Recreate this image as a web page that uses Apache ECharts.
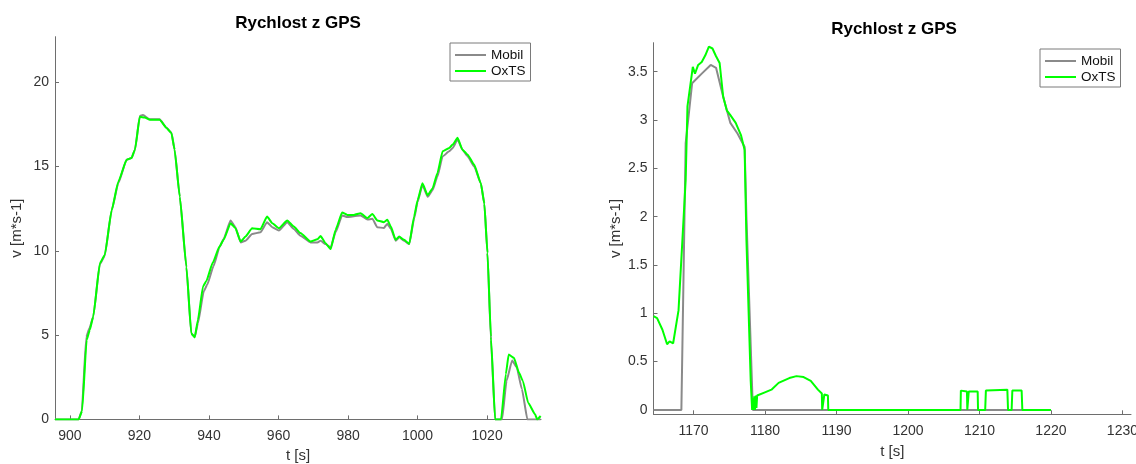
<!DOCTYPE html>
<html>
<head>
<meta charset="utf-8">
<script src="https://cdn.jsdelivr.net/npm/echarts@6/dist/echarts.min.js"></script>
<style>
html,body{margin:0;padding:0;background:#fff;}
#chart{width:1136px;height:464px;}
</style>
</head>
<body>
<div id="chart"></div>
<script>
// ---------- Data ----------
var chartTitle = 'Rychlost z GPS';
var seriesNames = ['Mobil', 'OxTS'];

// Left panel
var leftXTicks = [900, 920, 940, 960, 980, 1000, 1020];
var leftYTicks = [0, 5, 10, 15, 20];
var leftOxtsT = [895.7, 902.5, 903.5, 904.8, 905.7, 906.7, 908.6, 910.0, 912.0, 913.9, 916.3, 917.7, 918.7, 920.1, 921.5, 923.0, 925.8, 927.8, 929.2, 930.1, 931.6, 933.5, 934.9, 935.9, 936.8, 938.3, 939.2, 941.1, 943.0, 944.2, 946.2, 947.6, 949.1, 950.5, 952.4, 954.8, 956.7, 958.2, 960.1, 962.5, 964.4, 966.3, 969.2, 971.2, 972.1, 973.5, 975.0, 976.4, 978.3, 979.8, 981.7, 983.6, 985.6, 987.0, 988.4, 990.3, 991.3, 992.3, 993.7, 994.7, 996.1, 997.6, 999.0, 1000.0, 1001.4, 1002.9, 1004.3, 1005.7, 1007.2, 1009.1, 1010.1, 1011.5, 1012.9, 1014.4, 1016.3, 1018.2, 1019.2, 1020.1, 1021.1, 1022.3, 1024.0, 1025.4, 1026.2, 1027.7, 1029.2, 1030.3, 1031.8, 1033.8, 1034.4, 1035.4];
var leftOxtsV = [0, 0, 0.5, 4.7, 5.3, 6.1, 9.26, 9.75, 12.4, 14.1, 15.4, 15.5, 16.0, 17.95, 17.9, 17.77, 17.77, 17.28, 16.98, 16.0, 13.2, 9.06, 5.1, 4.86, 5.9, 7.9, 8.2, 9.3, 10.25, 10.65, 11.64, 11.34, 10.55, 10.85, 11.34, 11.28, 12.03, 11.64, 11.34, 11.8, 11.44, 11.05, 10.55, 10.69, 10.88, 10.45, 10.1, 11.24, 12.27, 12.13, 12.13, 12.23, 11.94, 12.19, 11.8, 11.7, 11.84, 11.44, 10.65, 10.85, 10.65, 10.41, 12.03, 13.0, 14.0, 13.3, 13.7, 14.6, 15.9, 16.1, 16.3, 16.7, 16.0, 15.7, 15.1, 14.0, 12.8, 9.86, 4.9, 0, 0, 2.7, 3.85, 3.65, 2.76, 2.27, 0.99, 0.3, 0, 0.2];
var leftMobilT = [895.7, 902.5, 903.4, 904.7, 905.6, 906.7, 908.6, 910.0, 912.0, 913.9, 916.3, 917.7, 918.7, 920.1, 921.0, 923.0, 925.8, 927.8, 929.2, 930.1, 931.6, 933.5, 934.9, 935.9, 936.8, 938.5, 939.5, 941.3, 943.0, 944.2, 946.2, 947.6, 949.1, 950.5, 952.4, 954.8, 956.7, 958.2, 960.1, 962.5, 964.4, 966.3, 969.2, 971.2, 972.1, 973.5, 975.0, 976.4, 978.3, 979.8, 981.7, 983.6, 985.6, 987.0, 988.4, 990.3, 991.3, 992.3, 993.7, 994.7, 996.1, 997.6, 999.0, 1000.0, 1001.4, 1002.9, 1004.3, 1005.7, 1007.2, 1009.1, 1010.1, 1011.5, 1012.9, 1014.4, 1016.3, 1018.2, 1019.2, 1020.1, 1021.1, 1022.3, 1024.3, 1025.6, 1027.2, 1028.5, 1030.0, 1031.6, 1035.4];
var leftMobilV = [0, 0, 0.5, 4.9, 5.4, 6.1, 9.2, 9.7, 12.4, 14.0, 15.4, 15.5, 16.0, 18.0, 18.05, 17.8, 17.8, 17.3, 17.0, 16.0, 13.2, 9.0, 5.1, 4.9, 5.7, 7.6, 8.0, 9.1, 10.2, 10.7, 11.8, 11.4, 10.5, 10.6, 11.0, 11.1, 11.7, 11.4, 11.2, 11.7, 11.3, 10.9, 10.5, 10.5, 10.6, 10.4, 10.2, 11.1, 12.1, 12.0, 12.05, 12.1, 11.85, 11.9, 11.4, 11.35, 11.6, 11.3, 10.6, 10.8, 10.6, 10.4, 11.9, 12.9, 13.9, 13.2, 13.6, 14.4, 15.6, 15.9, 16.1, 16.6, 16.0, 15.6, 15.0, 14.0, 12.8, 9.9, 4.7, 0, 0, 2.3, 3.5, 3.1, 1.8, 0, 0];

// Right panel
var rightXTicks = [1170, 1180, 1190, 1200, 1210, 1220, 1230];
var rightYTicks = [0, 0.5, 1, 1.5, 2, 2.5, 3, 3.5];
var rightOxtsT = [1164.4, 1164.9, 1165.65, 1166.3, 1166.65, 1167.15, 1167.4, 1167.9, 1168.4, 1168.9, 1169.15, 1169.9, 1170.2, 1170.4, 1170.65, 1171.15, 1171.65, 1172.15, 1172.65, 1173.15, 1173.65, 1174.15, 1174.65, 1175.15, 1175.9, 1176.65, 1177.15, 1177.4, 1178.0, 1178.2, 1178.3, 1178.4, 1178.5, 1178.6, 1178.7, 1178.8, 1178.9, 1179.15, 1179.9, 1180.9, 1181.9, 1183.4, 1184.4, 1185.4, 1186.4, 1187.4, 1187.95, 1188.0, 1188.25, 1188.3, 1188.8, 1188.85, 1207.35, 1207.4, 1208.25, 1208.3, 1208.45, 1208.5, 1209.75, 1209.8, 1210.8, 1210.9, 1213.9, 1214.0, 1214.5, 1214.6, 1215.9, 1216.0, 1220.0];
var rightOxtsV = [0.97, 0.95, 0.83, 0.68, 0.71, 0.69, 0.71, 1.03, 1.7, 2.38, 3.14, 3.55, 3.48, 3.52, 3.57, 3.6, 3.67, 3.76, 3.74, 3.66, 3.59, 3.24, 3.1, 3.05, 2.97, 2.84, 2.69, 1.76, 0.3, 0.0, 0.12, 0.0, 0.14, 0.0, 0.15, 0.02, 0.15, 0.16, 0.18, 0.21, 0.28, 0.33, 0.35, 0.34, 0.3, 0.21, 0.17, 0, 0, 0.16, 0.15, 0, 0, 0.2, 0.19, 0, 0, 0.19, 0.19, 0, 0, 0.2, 0.21, 0, 0, 0.2, 0.2, 0, 0];
var rightMobilT = [1164.4, 1168.3, 1168.9, 1169.8, 1171.15, 1172.4, 1173.15, 1174.15, 1175.15, 1176.15, 1177.15, 1177.4, 1178.3, 1220.0];
var rightMobilV = [0, 0, 2.76, 3.38, 3.48, 3.57, 3.54, 3.24, 2.97, 2.86, 2.72, 2.0, 0, 0];

// ---------- Chart ----------
function pairs(t, v) { return t.map(function (x, i) { return [x, v[i]]; }); }
function plain(v) { return String(v); }

var FONT = '"Liberation Sans", Arial, Helvetica, sans-serif';
var AXIS_COLOR = '#6e6e6e';
var LABEL_COLOR = '#333333';
var GRAY = '#8a8a8a';
var GREEN = '#00ff00';

function xAxisDef(idx, min, max, ticks, gap) {
  return {
    type: 'value', gridIndex: idx, min: min, max: max,
    name: 't [s]', nameLocation: 'middle', nameGap: gap,
    nameTextStyle: { fontFamily: FONT, fontSize: 15, color: LABEL_COLOR },
    axisLine: { show: true, onZero: false, lineStyle: { color: AXIS_COLOR, width: 1 } },
    axisTick: { show: true, inside: true, length: 4, customValues: ticks, lineStyle: { color: AXIS_COLOR } },
    axisLabel: { show: true, margin: 10, customValues: ticks, formatter: plain, hideOverlap: false,
      fontFamily: FONT, fontSize: 14, color: LABEL_COLOR },
    splitLine: { show: false }
  };
}
function yAxisDef(idx, min, max, ticks, gap) {
  return {
    type: 'value', gridIndex: idx, min: min, max: max,
    name: 'v [m*s-1]', nameLocation: 'middle', nameGap: gap, nameRotate: 90,
    nameTextStyle: { fontFamily: FONT, fontSize: 15, color: LABEL_COLOR },
    axisLine: { show: true, onZero: false, lineStyle: { color: AXIS_COLOR, width: 1 } },
    axisTick: { show: true, inside: true, length: 4, customValues: ticks, lineStyle: { color: AXIS_COLOR } },
    axisLabel: { show: true, margin: 6, customValues: ticks, formatter: plain,
      fontFamily: FONT, fontSize: 14, color: LABEL_COLOR },
    splitLine: { show: false }
  };
}
function lineSeries(name, idx, data, color, z, smooth) {
  return {
    name: name, type: 'line', xAxisIndex: idx, yAxisIndex: idx,
    data: data, showSymbol: false, symbol: 'none', smooth: smooth, smoothMonotone: 'x',
    lineStyle: { color: color, width: 2 }, itemStyle: { color: color },
    z: z, animation: false
  };
}
function legendDef(left, top) {
  return {
    left: left, top: top, orient: 'vertical',
    data: seriesNames,
    icon: 'rect', itemWidth: 31, itemHeight: 2, itemGap: 2,
    padding: [5, 5, 3, 5],
    backgroundColor: '#fff', borderColor: '#7a7a7a', borderWidth: 1,
    textStyle: { fontFamily: FONT, fontSize: 13.5, color: '#111' }
  };
}

var chart = echarts.init(document.getElementById('chart'), null, { renderer: 'canvas' });
chart.setOption({
  animation: false,
  backgroundColor: '#ffffff',
  title: [
    { text: chartTitle, left: 298, top: 15, padding: 0, textAlign: 'center',
      textStyle: { fontFamily: FONT, fontSize: 17, fontWeight: 'bold', color: '#000' } },
    { text: chartTitle, left: 894, top: 21, padding: 0, textAlign: 'center',
      textStyle: { fontFamily: FONT, fontSize: 17, fontWeight: 'bold', color: '#000' } }
  ],
  legend: [legendDef(450, 43), legendDef(1040, 49)],
  grid: [
    { left: 55, top: 36.7, width: 486, height: 382.7, outerBoundsMode: 'none' },
    { left: 653.5, top: 42.7, width: 477.5, height: 371.6, outerBoundsMode: 'none' }
  ],
  xAxis: [
    xAxisDef(0, 895.7, 1035.5, leftXTicks, 26),
    xAxisDef(1, 1164.4, 1231.2, rightXTicks, 30)
  ],
  yAxis: [
    yAxisDef(0, 0, 22.7, leftYTicks, 31),
    yAxisDef(1, -0.045, 3.8, rightYTicks, 30)
  ],
  series: [
    lineSeries(seriesNames[0], 0, pairs(leftMobilT, leftMobilV), GRAY, 2, 0.15),
    lineSeries(seriesNames[1], 0, pairs(leftOxtsT, leftOxtsV), GREEN, 3, 0.15),
    lineSeries(seriesNames[0], 1, pairs(rightMobilT, rightMobilV), GRAY, 2, false),
    lineSeries(seriesNames[1], 1, pairs(rightOxtsT, rightOxtsV), GREEN, 3, false)
  ]
});
</script>
</body>
</html>
